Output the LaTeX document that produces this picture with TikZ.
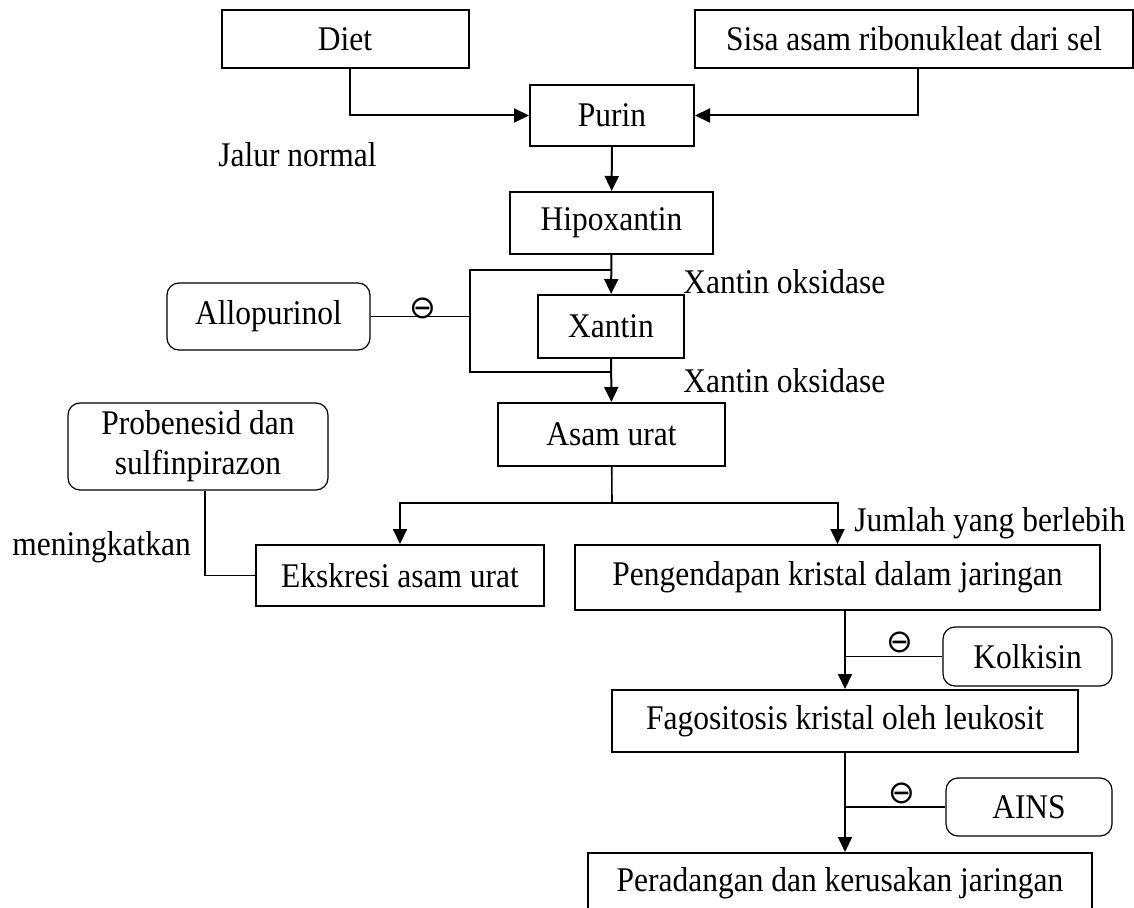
\documentclass[tikz,border=0pt]{standalone}
\usepackage{fontspec}
\setmainfont{Liberation Serif}[FakeStretch=0.91]
\newfontfamily\symfont{DejaVu Sans}
\usetikzlibrary{positioning,arrows.meta}

\begin{document}
\begin{tikzpicture}[x=0.5pt,y=-0.5pt,
  box/.style={draw,line width=1pt,inner sep=0pt,align=center},
  rbox/.style={draw,line width=0.6pt,rounded corners=6pt,inner sep=0pt,align=center},
  flow/.style={line width=1pt,-{Triangle[length=7.5pt,width=7pt]}},
  link/.style={line width=0.8pt},
  note/.style={anchor=west,inner sep=0pt},
  minus/.style={font=\symfont\fontsize{16}{16}\selectfont,inner sep=0pt}]
\fontsize{17.3}{20}\selectfont
\useasboundingbox (0,0) rectangle (1134,908);
% sources
\node[box,minimum width=123.5pt,minimum height=29pt] (diet) at (345,39) {Diet};
\node[box,minimum width=219pt,minimum height=29pt] (sisa) at (914,39) {Sisa asam ribonukleat dari sel};
\node[box,minimum width=82pt,minimum height=30.5pt] (purin) at (612,115.5) {Purin};
\node[note] (jalur) at (218,155) {Jalur normal};
% main path
\node[box,minimum width=101.5pt,minimum height=31pt] (hipo) at (611.5,223) {Hipoxantin};
\node[box,minimum width=73pt,minimum height=31.5pt] (xantin) at (611,326.5) {Xantin};
\node[box,minimum width=113.5pt,minimum height=31.5pt] (urat) at (611.5,434.5) {Asam urat};
\node[note] (xo1) at (683,282) {Xantin oksidase};
\node[note] (xo2) at (683,381) {Xantin oksidase};
\node[rbox,minimum width=101.5pt,minimum height=33.5pt] (allo) at (268.5,316.5) {Allopurinol};
% branches
\node[rbox,minimum width=130pt,minimum height=43.5pt] (prob) at (198,446.5) {Probenesid dan\\sulfinpirazon};
\node[note] (naik) at (12,547) {meningkatkan};
\node[box,minimum width=144pt,minimum height=30.5pt] (ekskresi) at (400,575.5) {Ekskresi asam urat};
\node[box,minimum width=262.5pt,minimum height=32.5pt] (endap) at (837.5,577.5) {Pengendapan kristal dalam jaringan};
\node[note] (lebih) at (854,523) {Jumlah yang berlebih};
\node[rbox,minimum width=84.5pt,minimum height=29.5pt] (kolk) at (1027.5,656.5) {Kolkisin};
\node[box,minimum width=233pt,minimum height=31pt] (fago) at (845,721) {Fagositosis kristal oleh leukosit};
\node[rbox,minimum width=83pt,minimum height=29pt] (ains) at (1029,807) {AINS};
\node[box,minimum width=252pt,minimum height=30pt] (radang) at (840,883) {Peradangan dan kerusakan jaringan};
\node[minus] (m1) at (423,308) {⊖};
\node[minus] (m2) at (900,642) {⊖};
\node[minus] (m3) at (902,793) {⊖};
\coordinate (b1) at (470,270);
\coordinate (b2) at (470,372);
\coordinate (split) at (612,503);
\draw[flow] ([xshift=2.5pt]diet.south) |- (purin);
\draw[flow] ([xshift=2pt]sisa.south) |- (purin);
\draw[flow] (purin) -- (hipo);
\draw[flow] (hipo) -- (xantin);
\draw[flow] (xantin) -- (urat);
\draw[link] (hipo.south |- b1) -- (b1) -- (b2) -- (xantin.south |- b2);
\draw[link] (allo) -- (allo -| b1);
\draw[link] (urat) -- (split);
\draw[flow] (split) -| (ekskresi);
\draw[flow] (split) -| (endap);
\draw[link] ([xshift=3.5pt]prob.south) |- (ekskresi);
\draw[flow] (endap.south -| fago) -- (fago);
\draw[link] (kolk) -- (kolk -| fago);
\draw[flow] (fago) -- (fago |- radang.north);
\draw[link] (ains) -- (ains -| fago);
\end{tikzpicture}
\end{document}
